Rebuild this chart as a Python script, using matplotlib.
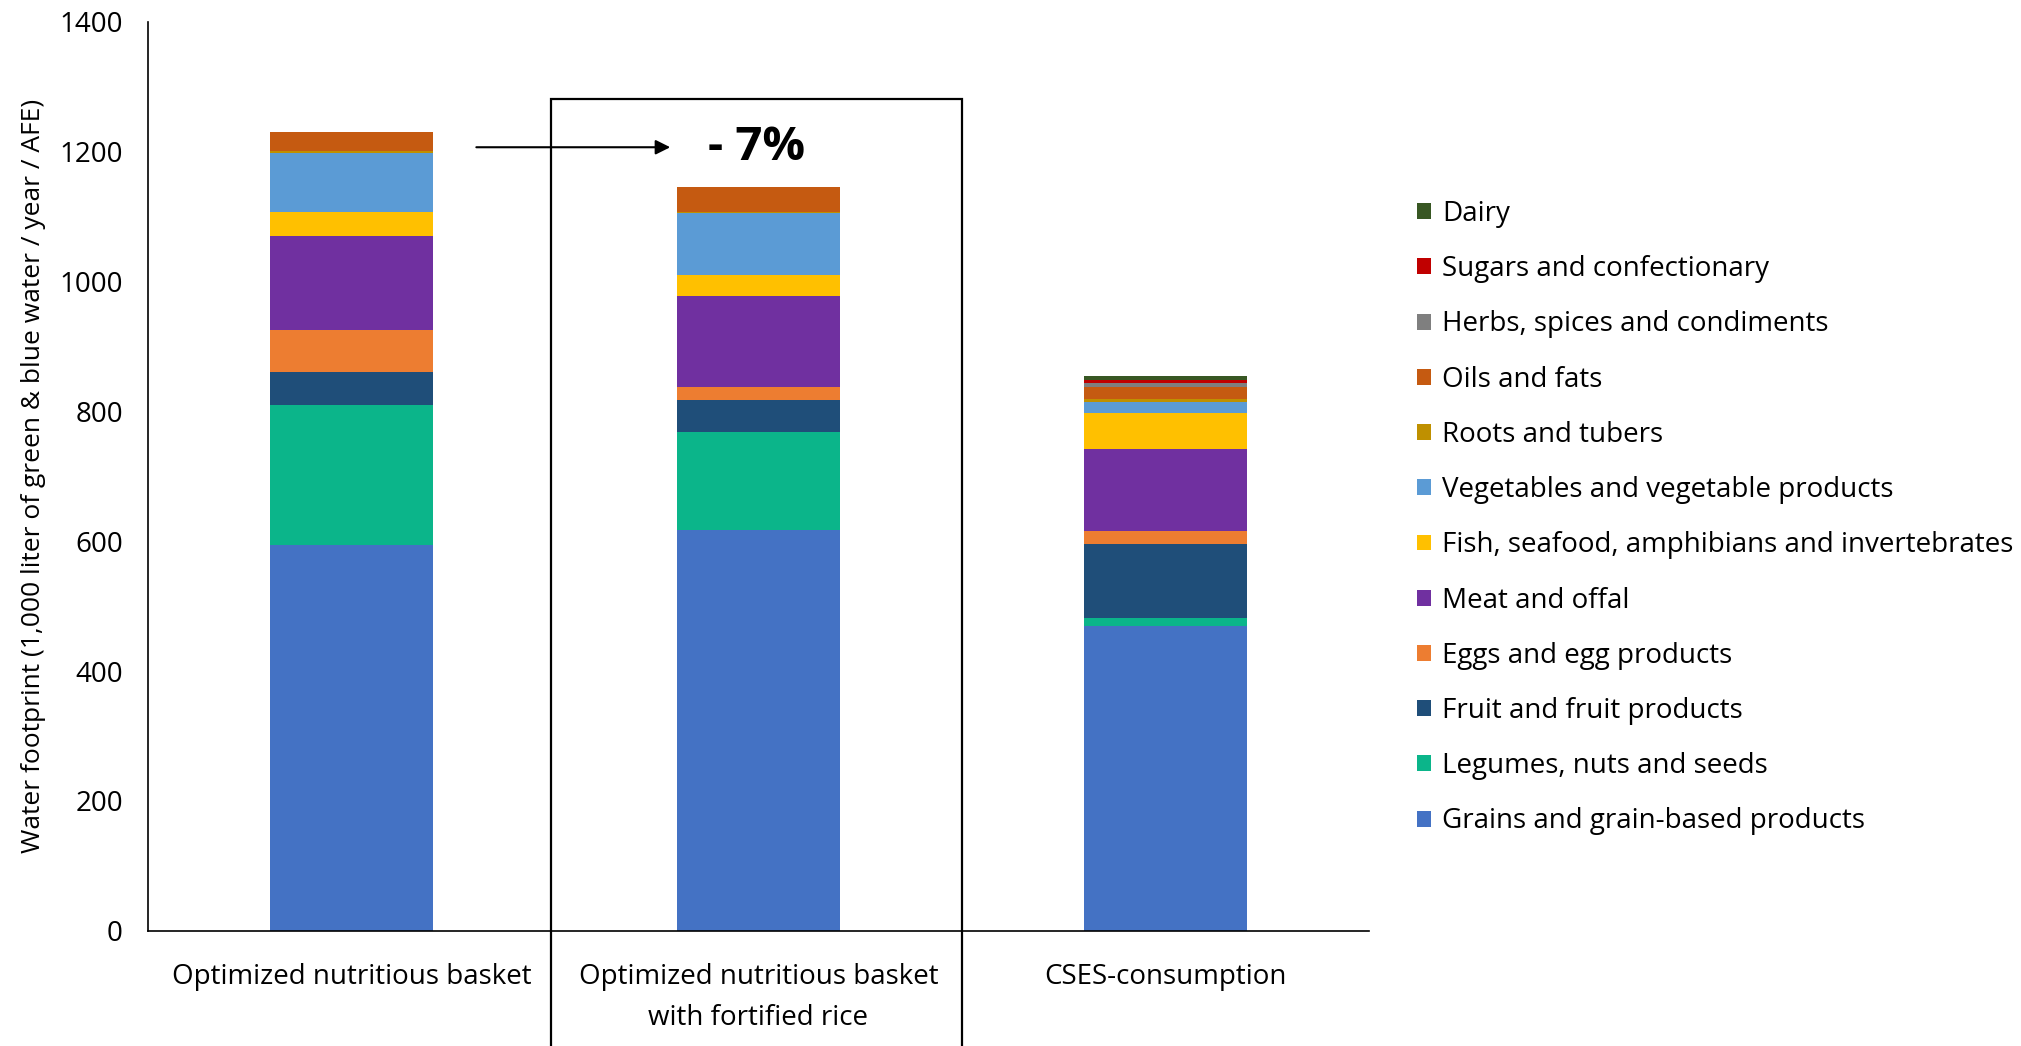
import matplotlib.pyplot as plt
from matplotlib.patches import Rectangle
import numpy as np

baskets = ["Optimized nutritious basket",
           "Optimized nutritious basket\nwith fortified rice",
           "CSES-consumption"]

# bottom to top, values in 1,000 liter / year / AFE
groups = ["Grains and grain-based products", "Legumes, nuts and seeds",
          "Fruit and fruit products", "Eggs and egg products", "Meat and offal",
          "Fish, seafood, amphibians and invertebrates",
          "Vegetables and vegetable products", "Roots and tubers", "Oils and fats",
          "Herbs, spices and condiments", "Sugars and confectionary", "Dairy"]
grains = [595, 617, 470]
legumes = [215, 152, 12]
fruit = [51, 48, 114]
eggs = [65, 21, 20]
meat = [144, 140, 126]
fish = [37, 32, 55]
veg = [91, 96, 18]
roots = [3, 1, 4]
oils = [30, 38, 19]
herbs = [0, 0, 6]
sugars = [0, 0, 5]
dairy = [0, 0, 5]
colors = ["#4472c4", "#0bb58a", "#1f4e79", "#ed7d31", "#7030a0", "#ffc000",
          "#5b9bd5", "#bf9000", "#c55a11", "#7f7f7f", "#c00000", "#385723"]

series = [grains, legumes, fruit, eggs, meat, fish, veg, roots, oils, herbs, sugars, dairy]

plt.rcParams['font.family'] = ['Open Sans', 'DejaVu Sans']

fig = plt.figure(figsize=(20.21, 10.46), dpi=100)
ax = fig.add_axes([0.0732, 0.1102, 0.6042, 0.8688])

x = np.arange(len(baskets))
bottom = np.zeros(len(baskets))
handles = []
for name, vals, c in zip(groups, series, colors):
    b = ax.bar(x, vals, 0.4, bottom=bottom, color=c, label=name, linewidth=0)
    handles.append(b)
    bottom += np.array(vals)

ax.set_xlim(-0.5, 2.5)
ax.set_ylim(0, 1400)
ax.set_yticks(np.arange(0, 1401, 200))
ax.tick_params(axis='both', length=0, labelsize=20)
ax.tick_params(axis='x', pad=23)
ax.tick_params(axis='y', pad=18)
ax.set_xticks(x)
ax.set_xticklabels(baskets, fontsize=20, linespacing=1.65, va='top')
for s in ['top', 'right']:
    ax.spines[s].set_visible(False)
for s in ['left', 'bottom']:
    ax.spines[s].set_linewidth(1.2)

ax.set_ylabel("Water footprint (1,000 liter of green & blue water / year / AFE)",
              fontsize=19, labelpad=10)

# box around the fortified rice basket
ax.add_patch(Rectangle((0.49, -400), 1.01, 1681, fill=False, edgecolor='black',
                       linewidth=1.6, clip_on=False))

ax.annotate("", xy=(0.79, 1207), xytext=(0.30, 1207),
            arrowprops=dict(arrowstyle='-|>', color='black', lw=1.5, mutation_scale=22))
ax.text(0.995, 1207, "- 7%", fontsize=34, fontweight='bold', ha='center', va='center')

leg = fig.legend(handles[::-1], groups[::-1], loc='center left',
                 bbox_to_anchor=(0.689, 0.505), frameon=False, fontsize=20,
                 handlelength=0.5, handleheight=0.5, handletextpad=0.4,
                 labelspacing=0.98)

fig.savefig("out.png", dpi=100)
